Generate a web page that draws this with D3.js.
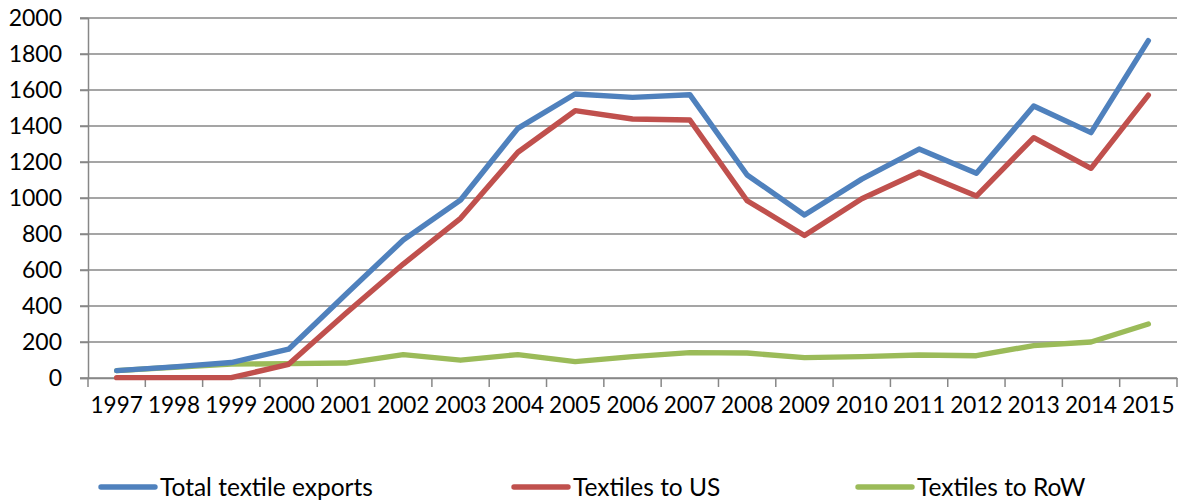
<!DOCTYPE html>
<html>
<head>
<meta charset="utf-8">
<script src="https://cdn.jsdelivr.net/npm/d3@7"></script>
<style>
  html, body { margin: 0; padding: 0; background: #fff; }
  svg { display: block; }
  text { font-family: Lato, "Open Sans", sans-serif; fill: #000; }
</style>
</head>
<body>
<svg id="chart" width="1179" height="502"></svg>
<script>
const years = ["1997","1998","1999","2000","2001","2002","2003","2004","2005","2006","2007","2008","2009","2010","2011","2012","2013","2014","2015"];
const totalExports = [41, 62, 86, 160, 465, 767, 989, 1387, 1578, 1559, 1574, 1128, 906, 1105, 1272, 1137, 1511, 1363, 1874];
const textilesUS   = [2, 2, 2, 76, 360, 633, 887, 1254, 1485, 1439, 1433, 985, 792, 996, 1143, 1011, 1335, 1165, 1572];
const textilesRoW  = [41, 60, 77, 80, 83, 130, 99, 130, 91, 119, 141, 139, 113, 119, 128, 124, 180, 200, 300];
const yTicks = [0, 200, 400, 600, 800, 1000, 1200, 1400, 1600, 1800, 2000];
const seriesNames = ["Total textile exports", "Textiles to US", "Textiles to RoW"];
const seriesColors = ["#4F81BD", "#C0504D", "#9BBB59"];

(function () {
const svg = d3.select("#chart");
const pLeft = 88, pRight = 1177, pTop = 18, pBottom = 378;
const gridColor = "#878787";

const x = d3.scaleBand().domain(years).range([pLeft, pRight]).padding(0);
const y = d3.scaleLinear().domain([0, 2000]).range([pBottom, pTop]);

// gridlines
svg.append("g").selectAll("line").data(yTicks).join("line")
  .attr("x1", pLeft - 8).attr("x2", pRight)
  .attr("y1", d => y(d)).attr("y2", d => y(d))
  .attr("stroke", gridColor).attr("stroke-width", 1.5);

// y axis
const yAxis = svg.append("g").attr("transform", `translate(${pLeft},0)`)
  .call(d3.axisLeft(y).tickValues(yTicks).tickFormat(d3.format("d")).tickSize(8).tickPadding(18));
yAxis.select(".domain").attr("stroke", gridColor).attr("stroke-width", 1.5);
yAxis.selectAll(".tick line").attr("stroke", gridColor).attr("stroke-width", 1.5);
yAxis.selectAll("text").style("font-size", "23px").attr("font-family", "Lato").attr("fill", "#000");

// x axis
const xAxis = svg.append("g").attr("transform", `translate(0,${pBottom})`)
  .call(d3.axisBottom(x).tickSize(0).tickPadding(19));
xAxis.select(".domain").attr("stroke", gridColor).attr("stroke-width", 1.5);
xAxis.selectAll("text").style("font-size", "22.5px").attr("font-family", "Lato").attr("fill", "#000");
// category boundary ticks
const bounds = years.map(d => x(d)).concat([pRight]);
svg.append("g").selectAll("line").data(bounds).join("line")
  .attr("x1", d => d).attr("x2", d => d)
  .attr("y1", pBottom).attr("y2", pBottom + 9)
  .attr("stroke", gridColor).attr("stroke-width", 1.5);

// lines
const allSeries = [totalExports, textilesUS, textilesRoW];
const line = d3.line().x((d, i) => x(years[i]) + x.bandwidth() / 2).y(d => y(d));
[2, 1, 0].forEach(k => {
  svg.append("path").datum(allSeries[k])
    .attr("d", line)
    .attr("fill", "none")
    .attr("stroke", seriesColors[k])
    .attr("stroke-width", 5.4)
    .attr("stroke-linejoin", "round")
    .attr("stroke-linecap", "round");
});

// legend
const legendX = [101, 514, 858];
const legendY = 487;
seriesNames.forEach((name, i) => {
  const g = svg.append("g");
  g.append("line")
    .attr("x1", legendX[i]).attr("x2", legendX[i] + 54)
    .attr("y1", legendY).attr("y2", legendY)
    .attr("stroke", seriesColors[i]).attr("stroke-width", 5.4)
    .attr("stroke-linecap", "round");
  g.append("text")
    .attr("x", legendX[i] + 59).attr("y", legendY)
    .attr("dy", "0.36em")
    .style("font-size", "24.5px")
    .text(name);
});
})();
</script>
</body>
</html>
